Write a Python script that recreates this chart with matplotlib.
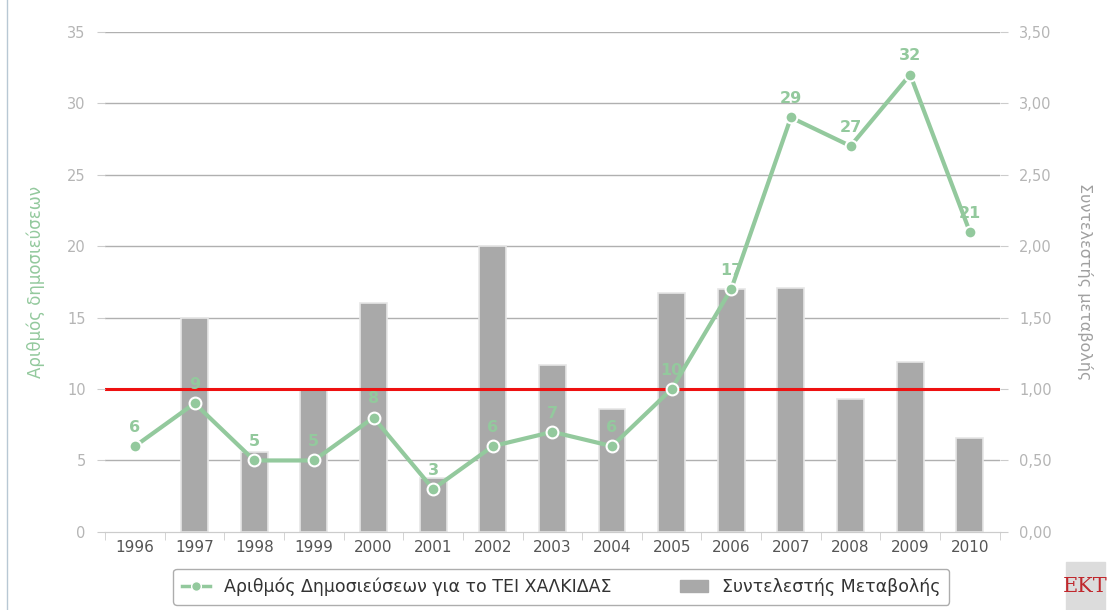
import matplotlib.pyplot as plt
from matplotlib.patches import Rectangle
from matplotlib.lines import Line2D
from matplotlib.patches import Patch

years = ["1996", "1997", "1998", "1999", "2000", "2001", "2002", "2003",
         "2004", "2005", "2006", "2007", "2008", "2009", "2010"]
publications = [6, 9, 5, 5, 8, 3, 6, 7, 6, 10, 17, 29, 27, 32, 21]
change_coef = [0.0, 1.50, 0.56, 1.00, 1.60, 0.38, 2.00, 1.17,
               0.86, 1.67, 1.70, 1.71, 0.93, 1.19, 0.66]
threshold = 1.0

green = "#93c99d"
bar_grey = "#a9a9a9"
tick_grey = "#b5b5b5"

plt.rcParams['font.family'] = ['DejaVu Sans']

fig = plt.figure(figsize=(11.07, 6.10), dpi=100)
ax = fig.add_axes([0.095, 0.128, 0.808, 0.82])
ax2 = ax.twinx()

x = list(range(len(years)))

# bars on the right axis (skip the empty first year so no stub is drawn)
bx = [xi for xi, v in zip(x, change_coef) if v > 0]
bv = [v for v in change_coef if v > 0]
ax2.bar(bx, bv, width=0.45, color=bar_grey, edgecolor="#e6e6e6",
        linewidth=1.2, zorder=2)
ax2.axhline(threshold, color="#ee1111", lw=2.2, zorder=3)
ax2.set_ylim(0, 3.5)
ax2.set_yticks([0, 0.5, 1, 1.5, 2, 2.5, 3, 3.5])
ax2.set_yticklabels([f"{v:.2f}".replace(".", ",") for v in ax2.get_yticks()],
                    color=tick_grey, fontsize=10.5)
ax2.set_ylabel("Συντελεστής μεταβολής", color="#a0a0a0", fontsize=11.5,
               rotation=-90, labelpad=30)

# line on the left axis, drawn above bars
ax.set_zorder(ax2.get_zorder() + 1)
ax.patch.set_visible(False)
ax.plot(x, publications, color=green, lw=3, marker="o", markersize=8.5,
        markerfacecolor=green, markeredgecolor="white", markeredgewidth=1.5,
        zorder=5)
for xi, v in zip(x, publications):
    ax.annotate(str(v), (xi, v), xytext=(0, 8), textcoords="offset points",
                ha="center", va="bottom", color=green, fontsize=11.5,
                fontweight="bold", zorder=6)

ax.set_ylim(0, 35)
ax.set_xlim(-0.45, 14.42)
ax.set_yticks(range(0, 36, 5))
ax.set_yticklabels([str(v) for v in range(0, 36, 5)], color=tick_grey, fontsize=10.5)
ax.set_ylabel("Αριθμός δημοσιεύσεων", color=green, fontsize=12, labelpad=16)
ax.set_xticks(x)
ax.set_xticklabels(years, color="#555555", fontsize=11)

ax.set_xticks([i + 0.5 for i in range(-1, len(years))], minor=True)
ax.tick_params(axis="x", which="major", length=0, pad=6)
ax.tick_params(axis="x", which="minor", length=6, color="#cccccc")
ax.tick_params(axis="y", length=6, color="#cccccc", pad=8)
ax2.tick_params(axis="y", length=6, color="#cccccc", pad=8)
ax2.tick_params(axis="x", which="both", length=0)

# grid lines
for v in range(5, 36, 5):
    ax2.axhline(v / 10, color="#b0b0b0", lw=1, zorder=1)

for a in (ax, ax2):
    for s in ("top", "left", "right"):
        a.spines[s].set_visible(False)
    a.spines["bottom"].set_color("#cccccc")

# legend
handles = [
    Line2D([0], [0], color=green, lw=2.5, marker="o", markersize=7,
           markerfacecolor=green, markeredgecolor="white"),
    Patch(facecolor=bar_grey, edgecolor=bar_grey),
]
labels = ["Αριθμός Δημοσιεύσεων για το ΤΕΙ ΧΑΛΚΙΔΑΣ", "Συντελεστής Μεταβολής"]
leg = fig.legend(handles, labels, loc="center", bbox_to_anchor=(0.507, 0.038),
                 ncol=2, frameon=True, fontsize=12.5, handlelength=1.6,
                 columnspacing=4.0, fancybox=True, borderpad=0.5,
                 borderaxespad=0.6)
leg.get_frame().set_edgecolor("#999999")
for t in leg.get_texts():
    t.set_color("#333333")

# left border line and logo
fig.add_artist(Line2D([0.006, 0.006], [0.0, 1.0], color="#b8c8d4", lw=1))
fig.add_artist(Rectangle((0.963, 0.0), 0.035, 0.078, color="#dcdcdc",
                         transform=fig.transFigure))
fig.text(0.9805, 0.038, "EKT", color="#c0282d", fontsize=15, family="serif",
         ha="center", va="center")

fig.savefig("out.png", dpi=100)
